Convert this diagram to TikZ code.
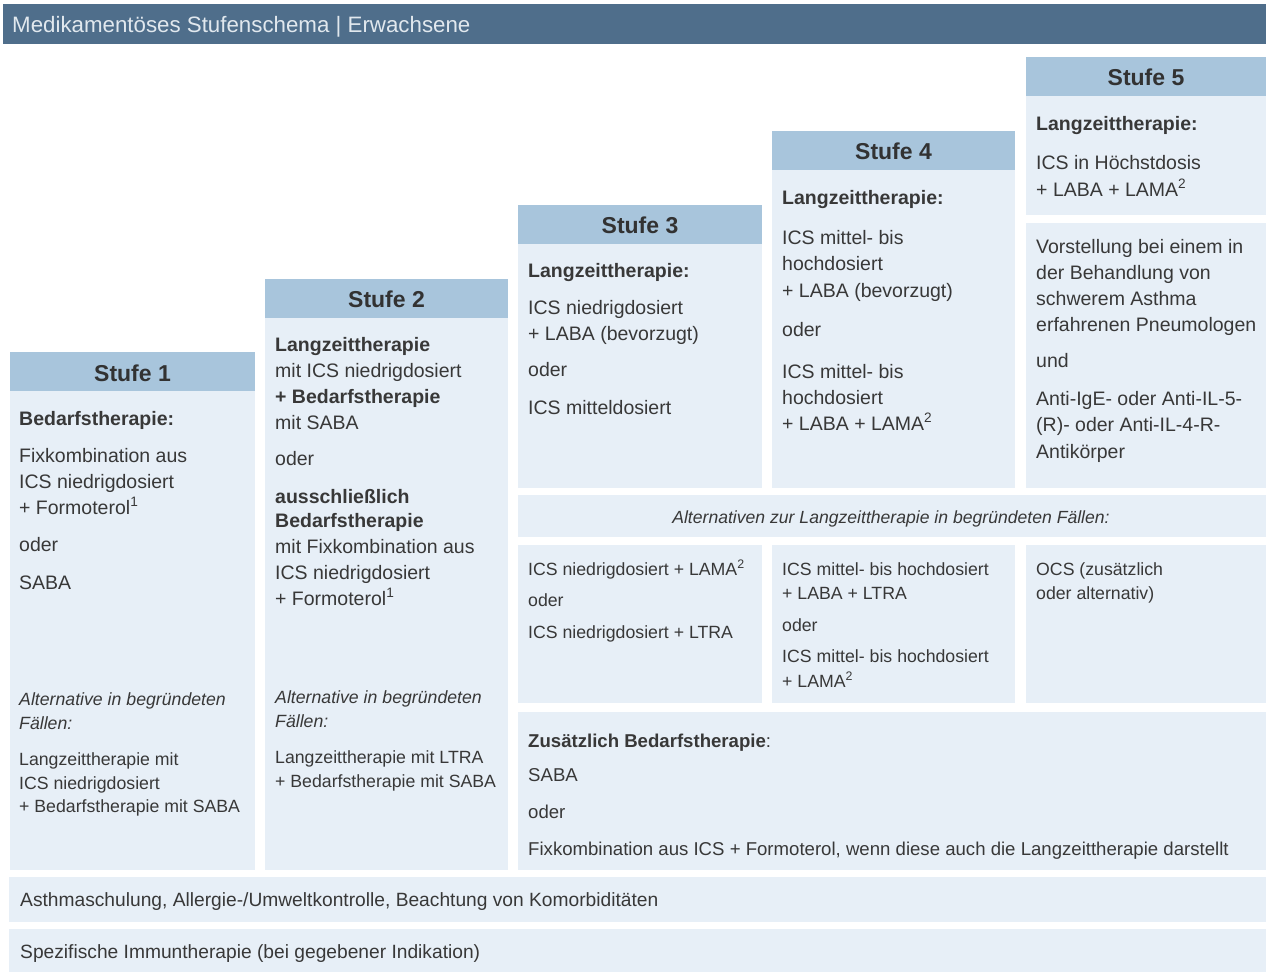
\documentclass[tikz,border=0pt]{standalone}
\usepackage{fontspec}
\setmainfont{Liberation Sans}
\definecolor{hdr}{HTML}{4F6E8B}
\definecolor{hdrtxt}{HTML}{E1E8EE}
\definecolor{stu}{HTML}{A8C5DC}
\definecolor{bod}{HTML}{E7EFF7}
\definecolor{ink}{HTML}{383838}
\newcommand\mybox[6]{\node[#6,minimum width={(#4-#2)*1pt},minimum height={(#5-#3)*1pt}] (#1) at (#2,#3) {};}
\newcommand\mytxt[5]{\node[#5] (#1) at (#2,#3) {#4};}
\tikzset{
  bx/.style={fill=bod, draw=none, inner sep=0pt, outer sep=0pt, anchor=north west},
  sbx/.style={bx, fill=stu},
  hbx/.style={bx, fill=hdr},
  tx/.style={anchor=base west, inner sep=0pt, text=ink, font=\fontsize{19.5}{23}\selectfont},
  tb/.style={tx, font=\fontsize{19.5}{23}\selectfont\bfseries},
  ts/.style={tx, font=\fontsize{17.7}{20}\selectfont},
  tsi/.style={tx, font=\fontsize{17.7}{20}\selectfont\itshape},
  tz/.style={tx, font=\fontsize{18.6}{21}\selectfont},
  tr/.style={tx, font=\fontsize{19.2}{22}\selectfont},
  th/.style={anchor=base, inner sep=0pt, text=ink!90!black, font=\fontsize{23}{26}\selectfont\bfseries},
}
\begin{document}
\begin{tikzpicture}[x=1pt,y=-1pt]
\useasboundingbox (0,0) rectangle (1266,972);
\fill[white] (0,0) rectangle (1266,972);
% title bar
\mybox{bar}{3}{4}{1266}{44}{hbx}
\node[anchor=base west, inner sep=0pt, text=hdrtxt, font=\fontsize{22.3}{25}\selectfont] (title) at (12,32) {Medikamentöses Stufenschema | Erwachsene};
% Stufe 1
\mybox{h1}{10}{352}{255}{391}{sbx}
\mybox{b1}{10}{391}{255}{870}{bx}
% Stufe 2
\mybox{h2}{265}{279}{508}{318}{sbx}
\mybox{b2}{265}{318}{508}{870}{bx}
% Stufe 3
\mybox{h3}{518}{205}{762}{244}{sbx}
\mybox{b3}{518}{244}{762}{488}{bx}
% Stufe 4
\mybox{h4}{772}{131}{1015}{170}{sbx}
\mybox{b4}{772}{170}{1015}{488}{bx}
% Stufe 5
\mybox{h5}{1026}{57}{1266}{96}{sbx}
\mybox{b5}{1026}{96}{1266}{215}{bx}
\mybox{b5b}{1026}{223}{1266}{488}{bx}
% Alternativen row
\mybox{altrow}{518}{495}{1266}{537}{bx}
\mybox{alt3}{518}{545}{762}{703}{bx}
\mybox{alt4}{772}{545}{1015}{703}{bx}
\mybox{alt5}{1026}{545}{1266}{703}{bx}
\mybox{zus}{518}{712}{1266}{870}{bx}
% bottom rows
\mybox{row1}{9}{877}{1266}{922}{bx}
\mybox{row2}{9}{929}{1266}{972}{bx}

% headers
\mytxt{s1}{132.5}{381}{Stufe 1}{th}
\mytxt{s2}{386.5}{307}{Stufe 2}{th}
\mytxt{s3}{640}{233}{Stufe 3}{th}
\mytxt{s4}{893.5}{159}{Stufe 4}{th}
\mytxt{s5}{1146}{85}{Stufe 5}{th}

% Stufe 1 text
\mytxt{a1}{19}{425}{Bedarfstherapie:}{tb}
\mytxt{a2}{19}{462}{Fixkombination aus}{tx}
\mytxt{a3}{19}{488}{ICS niedrigdosiert}{tx}
\mytxt{a4}{19}{514}{+ Formoterol\textsuperscript{1}}{tx}
\mytxt{a5}{19}{551}{oder}{tx}
\mytxt{a6}{19}{589}{SABA}{tx}
\mytxt{a7}{19}{705}{Alternative in begründeten}{tsi}
\mytxt{a8}{19}{729}{Fällen:}{tsi}
\mytxt{a9}{19}{765}{Langzeittherapie mit}{ts}
\mytxt{a10}{19}{789}{ICS niedrigdosiert}{ts}
\mytxt{a11}{19}{812}{+ Bedarfstherapie mit SABA}{ts}

% Stufe 2 text
\mytxt{c1}{275}{351}{Langzeittherapie}{tb}
\mytxt{c2}{275}{377}{mit ICS niedrigdosiert}{tx}
\mytxt{c3}{275}{403}{+ Bedarfstherapie}{tb}
\mytxt{c4}{275}{429}{mit SABA}{tx}
\mytxt{c5}{275}{465}{oder}{tx}
\mytxt{c6}{275}{503}{ausschließlich}{tb}
\mytxt{c7}{275}{527}{Bedarfstherapie}{tb}
\mytxt{c8}{275}{553}{mit Fixkombination aus}{tx}
\mytxt{c9}{275}{579}{ICS niedrigdosiert}{tx}
\mytxt{c10}{275}{605}{+ Formoterol\textsuperscript{1}}{tx}
\mytxt{c11}{275}{703}{Alternative in begründeten}{tsi}
\mytxt{c12}{275}{727}{Fällen:}{tsi}
\mytxt{c13}{275}{763}{Langzeittherapie mit LTRA}{ts}
\mytxt{c14}{275}{787}{+ Bedarfstherapie mit SABA}{ts}

% Stufe 3 text
\mytxt{d1}{528}{277}{Langzeittherapie:}{tb}
\mytxt{d2}{528}{314}{ICS niedrigdosiert}{tx}
\mytxt{d3}{528}{340}{+ LABA (bevorzugt)}{tx}
\mytxt{d4}{528}{376}{oder}{tx}
\mytxt{d5}{528}{414}{ICS mitteldosiert}{tx}

% Stufe 4 text
\mytxt{e1}{782}{204}{Langzeittherapie:}{tb}
\mytxt{e2}{782}{244}{ICS mittel- bis}{tx}
\mytxt{e3}{782}{270}{hochdosiert}{tx}
\mytxt{e4}{782}{297}{+ LABA (bevorzugt)}{tx}
\mytxt{e5}{782}{336}{oder}{tx}
\mytxt{e6}{782}{378}{ICS mittel- bis}{tx}
\mytxt{e7}{782}{404}{hochdosiert}{tx}
\mytxt{e8}{782}{430}{+ LABA + LAMA\textsuperscript{2}}{tx}

% Stufe 5 text
\mytxt{f1}{1036}{130}{Langzeittherapie:}{tb}
\mytxt{f2}{1036}{169}{ICS in Höchstdosis}{tx}
\mytxt{f3}{1036}{196}{+ LABA + LAMA\textsuperscript{2}}{tx}
\mytxt{f4}{1036}{253}{Vorstellung bei einem in}{tx}
\mytxt{f5}{1036}{279}{der Behandlung von}{tx}
\mytxt{f6}{1036}{305}{schwerem Asthma}{tx}
\mytxt{f7}{1036}{331}{erfahrenen Pneumologen}{tx}
\mytxt{f8}{1036}{367}{und}{tx}
\mytxt{f9}{1036}{405}{Anti-IgE- oder Anti-IL-5-}{tx}
\mytxt{f10}{1036}{431}{(R)- oder Anti-IL-4-R-}{tx}
\mytxt{f11}{1036}{458}{Antikörper}{tx}

% Alternativen
\node[anchor=base, inner sep=0pt, text=ink, font=\fontsize{17.6}{20}\selectfont\itshape] (altt) at (891,523) {Alternativen zur Langzeittherapie in begründeten Fällen:};
\mytxt{g1}{528}{575}{ICS niedrigdosiert + LAMA\textsuperscript{2}}{ts}
\mytxt{g2}{528}{606}{oder}{ts}
\mytxt{g3}{528}{638}{ICS niedrigdosiert + LTRA}{ts}
\mytxt{h1t}{782}{575}{ICS mittel- bis hochdosiert}{ts}
\mytxt{h2t}{782}{599}{+ LABA + LTRA}{ts}
\mytxt{h3t}{782}{631}{oder}{ts}
\mytxt{h4t}{782}{662}{ICS mittel- bis hochdosiert}{ts}
\mytxt{h5t}{782}{687}{+ LAMA\textsuperscript{2}}{ts}
\mytxt{i1}{1036}{575}{OCS (zusätzlich}{ts}
\mytxt{i2}{1036}{599}{oder alternativ)}{ts}

% Zusaetzlich
\mytxt{z1}{528}{747}{\textbf{Zusätzlich Bedarfstherapie}:}{tz}
\mytxt{z2}{528}{781}{SABA}{tz}
\mytxt{z3}{528}{818}{oder}{tz}
\mytxt{z4}{528}{855}{Fixkombination aus ICS + Formoterol, wenn diese auch die Langzeittherapie darstellt}{tz}

% bottom rows
\mytxt{r1}{20}{906}{Asthmaschulung, Allergie-/Umweltkontrolle, Beachtung von Komorbiditäten}{tr}
\mytxt{r2}{20}{958}{Spezifische Immuntherapie (bei gegebener Indikation)}{tr}
\end{tikzpicture}
\end{document}
